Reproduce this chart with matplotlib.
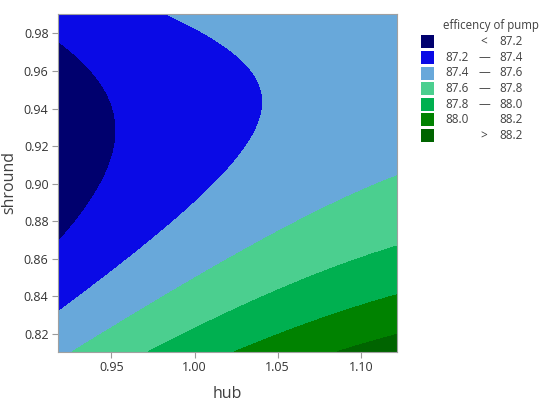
"""
Contour plot of pump efficiency vs hub and shroud ratios (Minitab style).
The surface is a quadratic response surface fitted to contour points read off the chart.
"""
import numpy as np
import matplotlib; matplotlib.use("Agg"); import matplotlib.pyplot as plt
from matplotlib.patches import Rectangle

plt.rcParams["font.family"] = ["Open Sans", "DejaVu Sans"]

# ---- contour points: (hub, shroud) on each level ----
lvl_872 = [(0.918, 0.975), (0.945, 0.953), (0.953, 0.929), (0.943, 0.898), (0.918, 0.870)]
lvl_874 = [(0.984, 0.990), (1.021, 0.971), (1.041, 0.945), (1.027, 0.913), (0.991, 0.884), (0.918, 0.832)]
lvl_876 = [(1.122, 0.905), (1.047, 0.875), (0.987, 0.843), (0.928, 0.811)]
lvl_878 = [(1.122, 0.867), (1.047, 0.840), (0.973, 0.811)]
lvl_880 = [(1.122, 0.840), (1.073, 0.828), (1.024, 0.811)]
lvl_882 = [(1.122, 0.820), (1.086, 0.811)]
pts_by_level = {87.2: lvl_872, 87.4: lvl_874, 87.6: lvl_876, 87.8: lvl_878, 88.0: lvl_880, 88.2: lvl_882}

hub_range = (0.918, 1.122)
shroud_range = (0.8106, 0.9903)

bounds = [80, 87.2, 87.4, 87.6, 87.8, 88.0, 88.2, 96]
colors = ["#00006E", "#0A0AE6", "#68A8DA", "#4BCF8F", "#00B050", "#008200", "#006400"]
left_lbl = ["", "87.2", "87.4", "87.6", "87.8", "88.0", ""]
mid_lbl = ["<", "\u2014", "\u2014", "\u2014", "\u2014", "", ">"]
right_lbl = ["87.2", "87.4", "87.6", "87.8", "88.0", "88.2", "88.2"]

# ---- quadratic response surface fitted to the read contour points ----
H, S, Z = [], [], []
for z, pts in pts_by_level.items():
    for h, s in pts:
        H.append(h); S.append(s); Z.append(z)
H = np.array(H) - 1.02; S = np.array(S) - 0.90; Z = np.array(Z)
X = np.column_stack([np.ones_like(H), H, S, H*H, S*S, H*S])
coef, *_ = np.linalg.lstsq(X, Z, rcond=None)

hh, ss = np.meshgrid(np.linspace(*hub_range, 300), np.linspace(*shroud_range, 300))
u, v = hh - 1.02, ss - 0.90
zz = coef[0] + coef[1]*u + coef[2]*v + coef[3]*u*u + coef[4]*v*v + coef[5]*u*v

fig = plt.figure(figsize=(5.5, 4.08), dpi=100)
ax = fig.add_axes([0.106, 0.138, 0.6164, 0.8277])
ax.contourf(hh, ss, zz, levels=bounds, colors=colors)
ax.set_xlim(*hub_range); ax.set_ylim(*shroud_range)
ax.set_xticks([0.95, 1.00, 1.05, 1.10]); ax.set_yticks(np.arange(0.82, 0.99, 0.02))
ax.xaxis.set_major_formatter(plt.FormatStrFormatter("%.2f"))
ax.yaxis.set_major_formatter(plt.FormatStrFormatter("%.2f"))
ax.tick_params(colors="#9a9a9a", labelcolor="#333333", labelsize=9, length=4, width=0.8, pad=3)
for sp in ax.spines.values():
    sp.set_color("#a0a0a0"); sp.set_linewidth(0.8)
ax.set_xlabel("hub", fontsize=11.5, color="#404040", labelpad=8)
ax.set_ylabel("shround", fontsize=11.5, color="#404040", labelpad=5)

# ---- legend drawn in figure pixels ----
W, Hf = 550, 408
fig.text(443/W, 1 - 26/Hf, "efficency of pump", fontsize=8.3, color="#404040", va="center")
for i, c in enumerate(colors):
    yc = 41.7 + i*15.65
    fig.add_artist(Rectangle((421/W, 1 - (yc + 6.5)/Hf), 13/W, 13/Hf, facecolor=c,
                             edgecolor="none", transform=fig.transFigure))
    fig.text(469/W, 1 - yc/Hf, left_lbl[i], fontsize=8.5, color="#404040", ha="right", va="center")
    fig.text(484/W, 1 - yc/Hf, mid_lbl[i], fontsize=8.5, color="#404040", ha="center", va="center")
    fig.text(499/W, 1 - yc/Hf, right_lbl[i], fontsize=8.5, color="#404040", ha="left", va="center")

fig.savefig("out.png", dpi=100)
